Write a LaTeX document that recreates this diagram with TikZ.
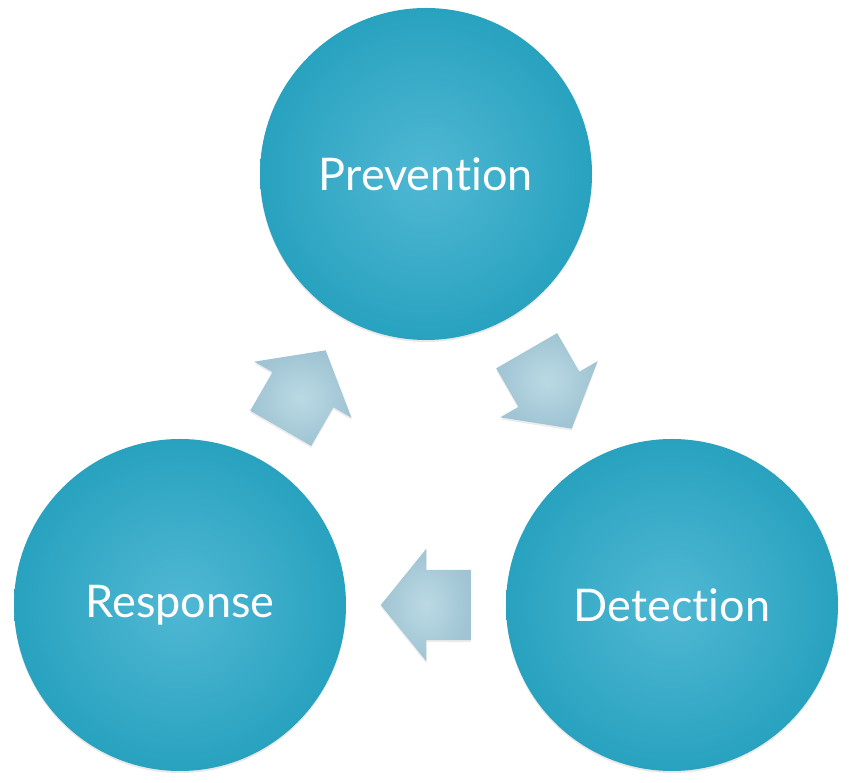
\documentclass[tikz,border=0pt]{standalone}
\usepackage{fontspec}
\setmainfont{Lato}[Ligatures=NoCommon]
\usetikzlibrary{shapes.arrows,shadows,calc}
\definecolor{phaseIn}{RGB}{80,184,212}
\definecolor{phaseOut}{RGB}{40,162,191}
\definecolor{flowIn}{RGB}{186,217,228}
\definecolor{flowOut}{RGB}{160,196,211}
\tikzstyle{phase} = [circle,minimum size=332pt,inner sep=0pt,shading=radial,inner color=phaseIn,outer color=phaseOut,text=white,font=\fontsize{45}{54}\selectfont,drop shadow={opacity=0.18,shadow xshift=0pt,shadow yshift=-2pt}]
\tikzstyle{flow} = [single arrow,minimum height=90pt,minimum width=112pt,single arrow head extend=21pt,single arrow tip angle=102,inner xsep=0pt,inner ysep=35pt,shading=radial,inner color=flowIn,outer color=flowOut,drop shadow={opacity=0.15,shadow xshift=0pt,shadow yshift=-2pt}]

\begin{document}
\begin{tikzpicture}[x=1pt,y=1pt]
	\useasboundingbox (0,0) rectangle (853,783);
	\node[phase] (prevention) at (426, 609) {Prevention};
	\node[phase] (detection) at (672, 178) {Detection};
	\node[phase] (response) at (180, 178) {Response};

	\foreach \source/ \dest /\angle in {response/prevention/60, prevention/detection/-60, detection/response/180}
	\node[flow, rotate=\angle] (to-\dest) at ($(\source)!0.5!(\dest)!14pt!(\source)$) {};
\end{tikzpicture}
\end{document}
